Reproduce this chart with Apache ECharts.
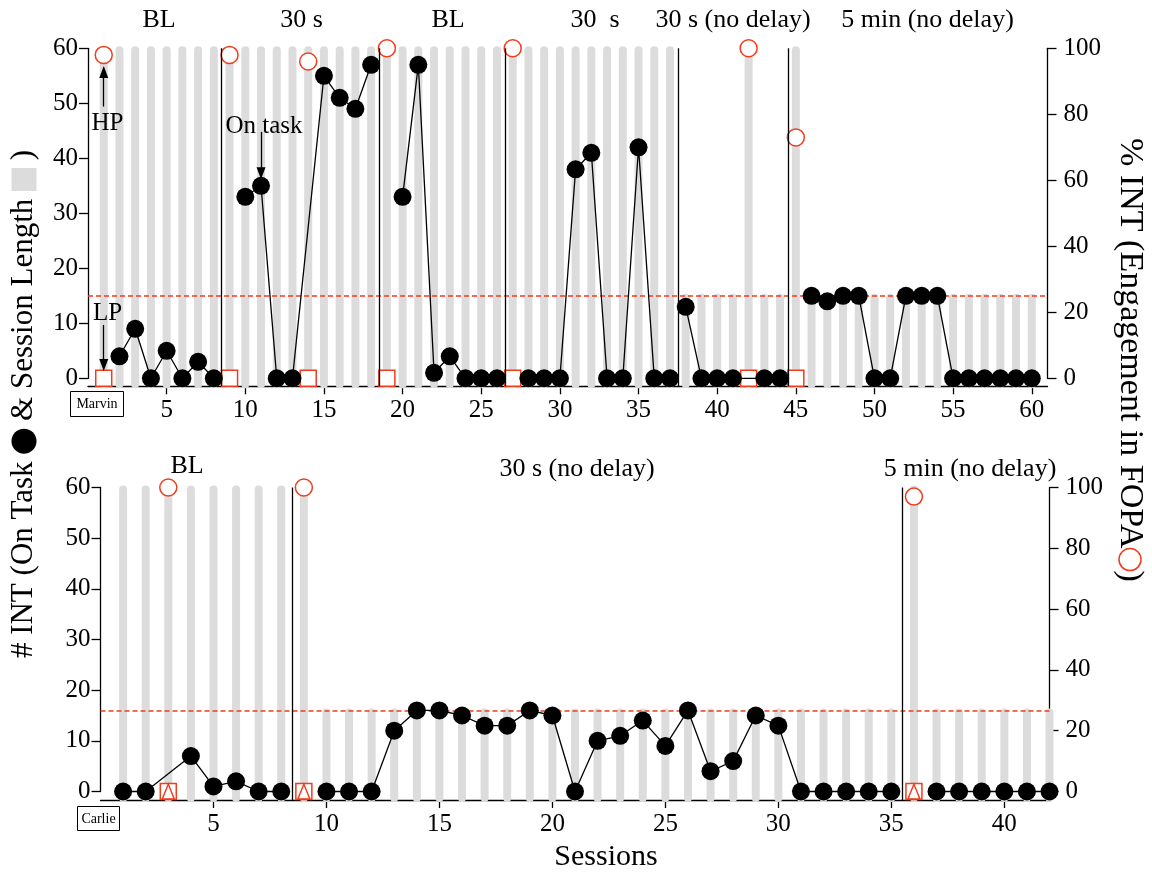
<!DOCTYPE html>
<html>
<head>
<meta charset="utf-8">
<script src="https://cdn.jsdelivr.net/npm/echarts@6/dist/echarts.min.js"></script>
<style>
  html, body { margin: 0; padding: 0; background: #fff; }
  #chart { width: 1152px; height: 876px; }
</style>
</head>
<body>
<div id="chart"></div>
<script>
// ---------------- Marvin (upper panel) ----------------
const marvinSessions = [
  1, 2, 3, 4, 5, 6, 7, 8, 9, 10, 11, 12, 13, 14, 15, 16, 17, 18, 19, 20,
  21, 22, 23, 24, 25, 26, 27, 28, 29, 30, 31, 32, 33, 34, 35, 36, 37, 38, 39, 40,
  41, 42, 43, 44, 45, 46, 47, 48, 49, 50, 51, 52, 53, 54, 55, 56, 57, 58, 59, 60
];
// number of intervals on task (null = preference probe session, no on-task dot)
const marvinOnTask = [
  null, 4, 9, 0, 5, 0, 3, 0,
  null, 33, 35, 0, 0, null, 55, 51, 49, 57,
  null, 33, 57, 1, 4, 0, 0, 0,
  null, 0, 0, 0, 38, 41, 0, 0, 42, 0, 0,
  13, 0, 0, 0, null, 0, 0,
  null, 15, 14, 15, 15, 0, 0, 15, 15, 15, 0, 0, 0, 0, 0, 0
];
// session length (intervals)
const marvinLength = [
  60, 60, 60, 60, 60, 60, 60, 60,
  60, 60, 60, 60, 60, 60, 60, 60, 60, 60,
  60, 60, 60, 60, 60, 60, 60, 60,
  60, 60, 60, 60, 60, 60, 60, 60, 60, 60, 60,
  15, 15, 15, 15, 60, 15, 15,
  60, 15, 15, 15, 15, 15, 15, 15, 15, 15, 15, 15, 15, 15, 15, 15
];
const marvinPhaseStarts = [1, 9, 19, 27, 38, 45];
const marvinPhaseLines = [8.5, 18.5, 26.5, 37.5, 44.5];
const marvinProbeSessions = [1, 9, 14, 19, 27, 42, 45];
const marvinHP = [98, 98, 96, 100, 100, 100, 73];   // % INT engagement, high-preference FOPA
const marvinLP = [0, 0, 0, 0, 0, 0, 0];             // % INT engagement, low-preference FOPA
const marvinCriterion = 15;
const marvinPhaseNames = ['BL', '30 s', 'BL', '30  s', '30 s (no delay)', '5 min (no delay)'];

// ---------------- Carlie (lower panel) ----------------
const carlieSessions = [
  1, 2, 3, 4, 5, 6, 7, 8, 9, 10, 11, 12, 13, 14, 15, 16, 17, 18, 19, 20, 21,
  22, 23, 24, 25, 26, 27, 28, 29, 30, 31, 32, 33, 34, 35, 36, 37, 38, 39, 40, 41, 42
];
const carlieOnTask = [
  0, 0, null, 7, 1, 2, 0, 0,
  null, 0, 0, 0, 12, 16, 16, 15, 13, 13, 16, 15, 0, 10, 11, 14, 9, 16, 4, 6, 15, 13, 0, 0, 0, 0, 0,
  null, 0, 0, 0, 0, 0, 0
];
const carlieLength = [
  60, 60, 60, 60, 60, 60, 60, 60,
  60, 16, 16, 16, 16, 16, 16, 16, 16, 16, 16, 16, 16, 16, 16, 16, 16, 16, 16, 16, 16, 16, 16, 16, 16, 16, 16,
  60, 16, 16, 16, 16, 16, 16
];
const carliePhaseStarts = [1, 9, 36];
const carliePhaseLines = [8.5, 35.5];
const carlieProbeSessions = [3, 9, 36];
const carlieHP = [100, 100, 97];
const carlieLP = [0, 0, 0];
const carlieLPAlt = [0, 0, 0];
const carlieCriterion = 16;
const carliePhaseNames = ['BL', '30 s (no delay)', '5 min (no delay)'];

// ---------------- axis ticks ----------------
const leftTicks = [0, 10, 20, 30, 40, 50, 60];
const rightTicks = [0, 20, 40, 60, 80, 100];
const marvinXTicks = [5, 10, 15, 20, 25, 30, 35, 40, 45, 50, 55, 60];
const carlieXTicks = [5, 10, 15, 20, 25, 30, 35, 40];

// ---------------- styling ----------------
const FONT = '"Liberation Serif", "Times New Roman", serif';
const RED = '#f23c1e';
const BAR_GRAY = '#dcdcdc';
const AXIS_W = 1.3;
const DOT_SIZE = 18;

const chart = echarts.init(document.getElementById('chart'), null, { renderer: 'canvas' });

// layout of the two panels: the axis grid (0..60) and a plot grid that reaches the baseline below 0
const panels = [
  { left: 88, top: 48.3, width: 959.5, height: 330, floor: -1.45, xMax: 61, xTicks: marvinXTicks },
  { left: 100.5, top: 487.5, width: 949, height: 304, floor: -1.68, xMax: 42, xTicks: carlieXTicks }
];

const grids = [], xAxes = [], yAxes = [];
const axisLineStyle = { color: '#000', width: AXIS_W };
const labelStyle = { color: '#000', fontFamily: FONT, fontSize: 25 };

panels.forEach((p) => {
  // axis grid
  grids.push({ left: p.left, top: p.top, width: p.width, height: p.height, containLabel: false, outerBoundsMode: 'none' });
  // plot grid
  grids.push({ left: p.left, top: p.top, width: p.width, height: p.height * (60 - p.floor) / 60, containLabel: false, outerBoundsMode: 'none' });
  const gA = grids.length - 2, gP = grids.length - 1;

  xAxes.push({ gridIndex: gA, type: 'value', min: 0, max: p.xMax, show: false });
  xAxes.push({
    gridIndex: gP, type: 'value', min: 0, max: p.xMax,
    axisLine: { show: true, onZero: false, lineStyle: axisLineStyle },
    axisTick: { show: true, length: 8, customValues: p.xTicks, lineStyle: axisLineStyle },
    axisLabel: Object.assign({ customValues: p.xTicks, margin: 12 }, labelStyle),
    splitLine: { show: false }
  });

  yAxes.push({
    gridIndex: gA, type: 'value', position: 'left', min: 0, max: 60, interval: 10,
    axisLine: { show: true, onZero: false, lineStyle: axisLineStyle },
    axisTick: { show: true, length: 9, customValues: leftTicks, lineStyle: axisLineStyle },
    axisLabel: Object.assign({ margin: 10, customValues: leftTicks }, labelStyle),
    splitLine: { show: false }
  });
  yAxes.push({
    gridIndex: gA, type: 'value', position: 'right', min: 0, max: 100, interval: 20,
    axisLine: { show: true, onZero: false, lineStyle: axisLineStyle },
    axisTick: { show: true, length: 9, customValues: rightTicks, lineStyle: axisLineStyle },
    axisLabel: Object.assign({ margin: 16, customValues: rightTicks }, labelStyle),
    splitLine: { show: false }
  });
  yAxes.push({ gridIndex: gP, type: 'value', min: p.floor, max: 60, show: false });
  yAxes.push({ gridIndex: gP, type: 'value', min: p.floor * 100 / 60, max: 100, show: false });
});

function zip(xs, ys) { return xs.map((x, i) => [x, ys[i]]); }

function barRenderer(floor) {
  return function (params, api) {
    const s = api.value(0), len = api.value(1);
    const top = api.coord([s, len]);
    const bot = api.coord([s, floor]);
    return {
      type: 'rect',
      shape: { x: top[0] - 4, y: top[1] - 2, width: 8, height: bot[1] - top[1] + 4, r: 4 },
      style: { fill: BAR_GRAY }
    };
  };
}

// split the on-task data into one connected line per phase
function phaseLines(sessions, values, starts) {
  const out = [];
  starts.forEach((st, k) => {
    const end = k + 1 < starts.length ? starts[k + 1] : Infinity;
    const pts = [];
    sessions.forEach((s, i) => {
      if (s >= st && s < end && values[i] !== null) pts.push([s, values[i]]);
    });
    out.push(pts);
  });
  return out;
}

const series = [];
function buildPanel(idx, d) {
  const xi = idx * 2 + 1;          // plot grid x axis
  const yl = idx * 4 + 2;          // hidden left (count) axis
  const yr = idx * 4 + 3;          // hidden right (%) axis
  const floor = panels[idx].floor;

  series.push({
    type: 'custom', xAxisIndex: xi, yAxisIndex: yl, z: 1, clip: false, silent: true,
    renderItem: barRenderer(floor),
    encode: { x: 0, y: 1 },
    data: zip(d.sessions, d.length)
  });

  const markData = [
    { yAxis: d.criterion, lineStyle: { color: RED, width: 1.5, type: [5, 3] } }
  ];
  d.phaseLines.forEach((v) => markData.push({ xAxis: v, lineStyle: { color: '#000', width: 1.3, type: 'solid' } }));
  (d.arrows || []).forEach((a) => markData.push([
    { coord: a.from, symbol: 'none' },
    { coord: a.to, symbol: 'triangle', symbolSize: [9, 12], lineStyle: { color: '#000', width: 1.3, type: 'solid' } }
  ]));

  series.push({
    type: 'line', xAxisIndex: xi, yAxisIndex: yl, z: 2, data: [], silent: true,
    markLine: {
      silent: true, animation: false, symbol: ['none', 'none'],
      label: { show: false },
      data: markData
    }
  });

  series.push({
    type: 'scatter', xAxisIndex: xi, yAxisIndex: yr, z: 3, clip: false, silent: true,
    symbol: 'rect', symbolSize: 16,
    itemStyle: { color: '#fff', borderColor: RED, borderWidth: 1.5, opacity: 1 },
    data: zip(d.probes, d.lp)
  });
  if (d.lpAlt) {
    series.push({
      type: 'scatter', xAxisIndex: xi, yAxisIndex: yr, z: 3, clip: false, silent: true,
      symbol: 'triangle', symbolSize: [12, 15],
      itemStyle: { color: 'rgba(255,255,255,0)', borderColor: RED, borderWidth: 1.5, opacity: 1 },
      data: zip(d.probes, d.lpAlt)
    });
  }
  series.push({
    type: 'scatter', xAxisIndex: xi, yAxisIndex: yr, z: 3, clip: false, silent: true,
    symbol: 'circle', symbolSize: 17,
    itemStyle: { color: '#fff', borderColor: RED, borderWidth: 1.5, opacity: 1 },
    data: zip(d.probes, d.hp)
  });

  phaseLines(d.sessions, d.onTask, d.phaseStarts).forEach((pts) => {
    series.push({
      type: 'line', xAxisIndex: xi, yAxisIndex: yl, z: 5, clip: false, silent: true,
      symbol: 'circle', symbolSize: DOT_SIZE, showSymbol: true,
      lineStyle: { color: '#000', width: 1.3 },
      itemStyle: { color: '#000', borderWidth: 0 },
      data: pts
    });
  });
}

buildPanel(0, {
  sessions: marvinSessions, onTask: marvinOnTask, length: marvinLength,
  phaseStarts: marvinPhaseStarts, phaseLines: marvinPhaseLines,
  probes: marvinProbeSessions, hp: marvinHP, lp: marvinLP, criterion: marvinCriterion,
  arrows: [
    { from: [1, 49.4], to: [1, 55.7] },   // HP
    { from: [1, 9.7], to: [1, 2.4] },     // LP
    { from: [11, 44.8], to: [11, 37.3] }  // On task
  ]
});
buildPanel(1, {
  sessions: carlieSessions, onTask: carlieOnTask, length: carlieLength,
  phaseStarts: carliePhaseStarts, phaseLines: carliePhaseLines,
  probes: carlieProbeSessions, hp: carlieHP, lp: carlieLP, lpAlt: carlieLPAlt, criterion: carlieCriterion
});

// ---------------- text ----------------
function txt(x, y, text, size, extra) {
  return Object.assign({
    type: 'text', x: x, y: y, silent: true, z: 10,
    style: Object.assign({ text: text, fill: '#000', fontFamily: FONT, fontSize: size, align: 'center', verticalAlign: 'middle' }, (extra && extra.style) || {})
  }, extra && extra.rotation !== undefined ? { rotation: extra.rotation } : {});
}

const graphic = [];
const marvinLabelX = [159, 301.5, 448, 595, 733, 927.5];
marvinPhaseNames.forEach((n, i) => graphic.push(txt(marvinLabelX[i], 20, n, 26)));
const carlieLabelX = [187, 577, 970];
const carlieLabelY = [466, 469, 469];
carliePhaseNames.forEach((n, i) => graphic.push(txt(carlieLabelX[i], carlieLabelY[i], n, 26)));

graphic.push(txt(107.5, 123, 'HP', 25));
graphic.push(txt(107.5, 313, 'LP', 25));
graphic.push(txt(264, 126, 'On task', 25));

// participant name boxes
graphic.push({ type: 'rect', z: 10, silent: true, shape: { x: 70.5, y: 391.5, width: 53, height: 25 }, style: { fill: '#fff', stroke: '#000', lineWidth: 1 } });
graphic.push(txt(97, 404.5, 'Marvin', 14));
graphic.push({ type: 'rect', z: 10, silent: true, shape: { x: 77.5, y: 806.5, width: 42, height: 24 }, style: { fill: '#fff', stroke: '#000', lineWidth: 1 } });
graphic.push(txt(98.5, 819, 'Carlie', 14));

graphic.push(txt(606, 857, 'Sessions', 30));

// axis titles
graphic.push(txt(24, 404, '# INT (On Task {dot| } & Session Length {bar| } )', 31, {
  rotation: Math.PI / 2,
  style: {
    rich: {
      dot: { width: 25, height: 25, backgroundColor: '#000', borderRadius: 12.5 },
      bar: { width: 23, height: 25, backgroundColor: BAR_GRAY }
    }
  }
}));
graphic.push(txt(1130, 360, '% INT (Engagement in FOPA{circ| })', 34, {
  rotation: -Math.PI / 2,
  style: {
    rich: {
      circ: { width: 22, height: 22, borderColor: RED, borderWidth: 1.5, borderRadius: 11 }
    }
  }
}));

chart.setOption({
  backgroundColor: '#fff',
  animation: false,
  grid: grids,
  xAxis: xAxes,
  yAxis: yAxes,
  series: series,
  graphic: graphic
});
</script>
</body>
</html>
